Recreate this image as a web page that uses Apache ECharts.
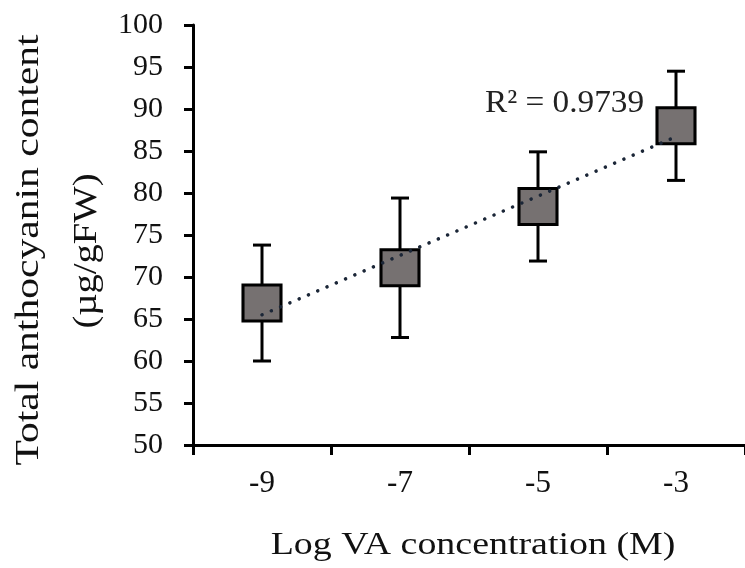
<!DOCTYPE html>
<html>
<head>
<meta charset="utf-8">
<script src="https://cdn.jsdelivr.net/npm/echarts@6/dist/echarts.min.js"></script>
<style>html,body{margin:0;padding:0;background:#fff;}#c{width:745px;height:568px;}</style>
</head>
<body>
<div id="c"></div>
<script>
var categories = ['-9', '-7', '-5', '-3'];
var means = [66.9, 71.1, 78.4, 88.0];
var errors = [6.9, 8.3, 6.5, 6.5];
var trendValues = [65.5, 86.7];
var yTicks = {min: 50, max: 100, interval: 5};
var r2Label = 'R² = 0.9739';

var FONT = '"Liberation Serif", "Times New Roman", serif';
var chart = echarts.init(document.getElementById('c'));

var errData = categories.map(function (c, i) { return [i, means[i] - errors[i], means[i] + errors[i]]; });
var boxData = categories.map(function (c, i) { return [i, means[i]]; });
var trendData = [[0, trendValues[0]], [categories.length - 1, trendValues[1]]];

chart.setOption({
  animation: false,
  grid: {left: 193, top: 25, width: 557, height: 420},
  xAxis: {
    type: 'category',
    data: categories,
    axisLine: {lineStyle: {color: '#000', width: 3}},
    axisTick: {show: true, length: 10, lineStyle: {color: '#000', width: 3}},
    axisLabel: {color: '#111', fontFamily: FONT, fontSize: 31, margin: 23},
    splitLine: {show: false}
  },
  yAxis: {
    type: 'value',
    min: yTicks.min, max: yTicks.max, interval: yTicks.interval,
    axisLine: {show: true, lineStyle: {color: '#000', width: 3}},
    axisTick: {show: true, length: 9, lineStyle: {color: '#000', width: 3}},
    axisLabel: {color: '#111', fontFamily: FONT, fontSize: 30, margin: 30},
    splitLine: {show: false}
  },
  graphic: [
    {type: 'text', x: 29, y: 250, rotation: Math.PI / 2, scaleX: 1.26,
     style: {text: 'Total anthocyanin content', font: '33px ' + FONT, fill: '#111', align: 'center', verticalAlign: 'middle'}},
    {type: 'text', x: 87, y: 251, rotation: Math.PI / 2, scaleX: 1.17,
     style: {text: '(µg/gFW)', font: '33px ' + FONT, fill: '#111', align: 'center', verticalAlign: 'middle'}},
    {type: 'text', x: 473, y: 546, scaleX: 1.185,
     style: {text: 'Log VA concentration (M)', font: '32px ' + FONT, fill: '#111', align: 'center', verticalAlign: 'middle'}},
    {type: 'text', x: 485, y: 104, scaleX: 1.04,
     style: {text: r2Label, font: '32px ' + FONT, fill: '#222', align: 'left', verticalAlign: 'middle'}}
  ],
  series: [
    {
      type: 'custom',
      z: 2,
      data: errData,
      renderItem: function (params, api) {
        var lo = api.coord([api.value(0), api.value(1)]);
        var hi = api.coord([api.value(0), api.value(2)]);
        var hw = 9;
        var st = {stroke: '#000', lineWidth: 3, fill: null};
        return {type: 'group', children: [
          {type: 'line', shape: {x1: lo[0], y1: lo[1], x2: hi[0], y2: hi[1]}, style: st},
          {type: 'line', shape: {x1: lo[0] - hw, y1: lo[1], x2: lo[0] + hw, y2: lo[1]}, style: st},
          {type: 'line', shape: {x1: hi[0] - hw, y1: hi[1], x2: hi[0] + hw, y2: hi[1]}, style: st}
        ]};
      }
    },
    {
      type: 'scatter',
      z: 3,
      data: boxData,
      symbol: 'rect',
      symbolSize: [38, 36],
      itemStyle: {color: '#767171', borderColor: '#000', borderWidth: 3, opacity: 1}
    },
    {
      type: 'line',
      z: 4,
      data: trendData,
      symbol: 'none',
      lineStyle: {color: '#1b2637', width: 3.5, type: [0.1, 10], cap: 'round'}
    }
  ]
});
</script>
</body>
</html>
